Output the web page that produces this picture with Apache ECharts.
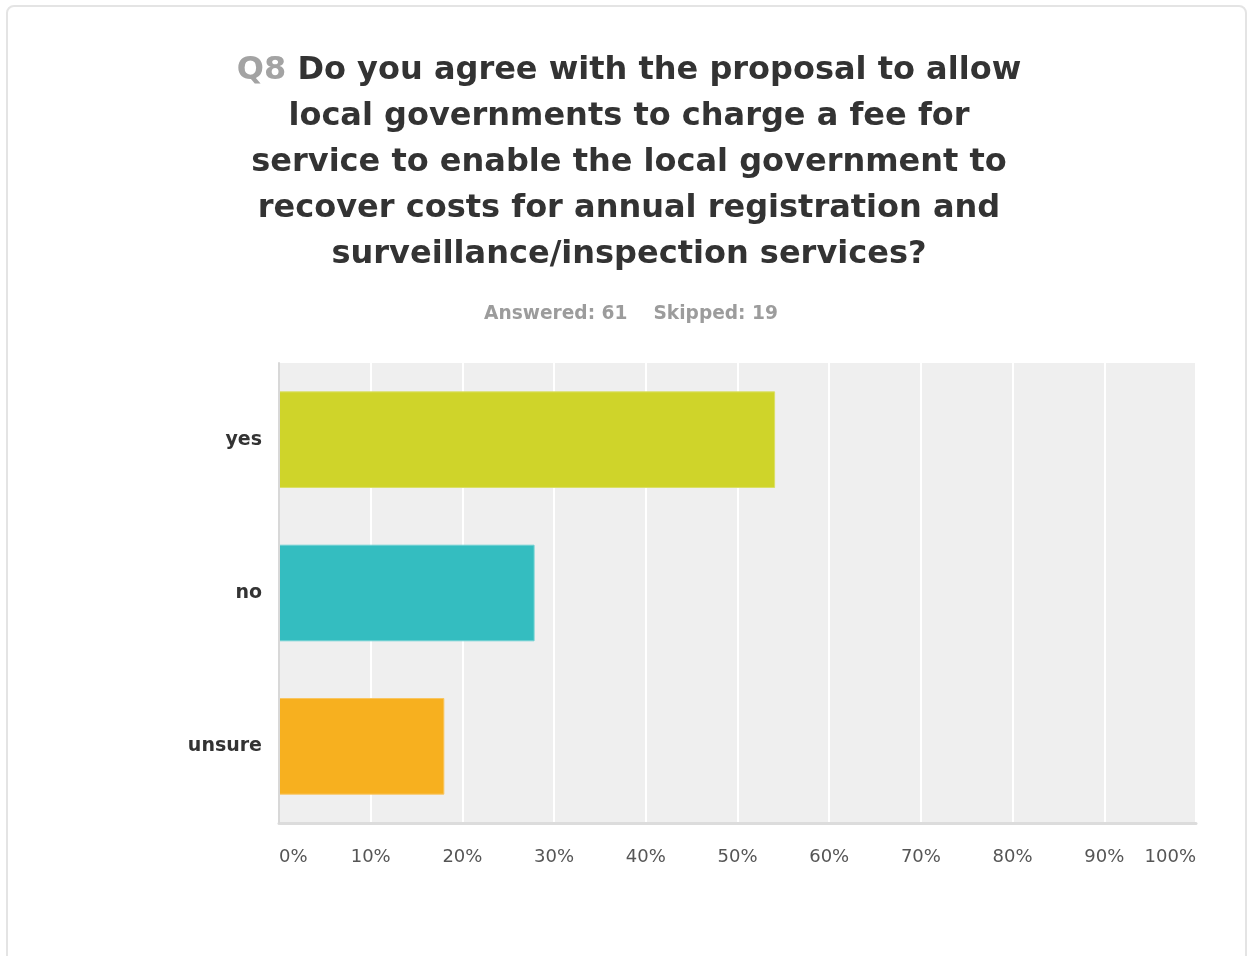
<!DOCTYPE html>
<html>
<head>
<meta charset="utf-8">
<title>Q8 survey results</title>
<script src="https://cdn.jsdelivr.net/npm/echarts@6/dist/echarts.min.js"></script>
<style>
  html, body { margin: 0; padding: 0; background: #ffffff; overflow: hidden; }
  #card {
    position: absolute; left: 6px; top: 5px; width: 1241px; height: 960px;
    border: 2px solid #e4e4e4; border-radius: 8px; box-sizing: border-box;
  }
  #chart { position: absolute; left: 0; top: 0; width: 1248px; height: 956px; }
</style>
</head>
<body>
<div id="card"></div>
<div id="chart"></div>
<script>
// Survey answers and their share of respondents (%)
const categories = ['yes', 'no', 'unsure'];
const shares = [54.10, 27.87, 18.03];
const barColors = ['#cfd42a', '#34bdc0', '#f7b01f'];
const barEdges = ['#dadf66', '#6fd0d2', '#f9c55e'];
const tickValues = [0, 10, 20, 30, 40, 50, 60, 70, 80, 90, 100];

const questionNo = 'Q8';
const questionLines = [
  'Do you agree with the proposal to allow',
  'local governments to charge a fee for',
  'service to enable the local government to',
  'recover costs for annual registration and',
  'surveillance/inspection services?'
];
const answered = 61;
const skipped = 19;

const chart = echarts.init(document.getElementById('chart'), null, { renderer: 'canvas' });

const titleText = '{q|' + questionNo + '} ' + questionLines[0] + '\n' + questionLines.slice(1).join('\n');

chart.setOption({
  animation: false,
  backgroundColor: 'transparent',
  title: [
    {
      text: titleText,
      left: 624,
      top: 43,
      textAlign: 'center',
      textStyle: {
        fontFamily: 'DejaVu Sans',
        fontWeight: 'bold',
        fontSize: 32,
        lineHeight: 46,
        color: '#333333',
        align: 'center',
        rich: {
          q: { fontFamily: 'DejaVu Sans', fontWeight: 'bold', fontSize: 32, lineHeight: 46, color: '#a3a3a3' }
        }
      }
    },
    {
      text: 'Answered: ' + answered + '{gap|}Skipped: ' + skipped,
      left: 626,
      top: 298,
      textAlign: 'center',
      textStyle: {
        fontFamily: 'DejaVu Sans',
        fontWeight: 'bold',
        fontSize: 18.6,
        lineHeight: 22,
        color: '#9c9c9c',
        rich: { gap: { width: 26 } }
      }
    }
  ],
  grid: {
    left: 279,
    right: 52,
    top: 363,
    bottom: 133,
    show: true,
    backgroundColor: '#efefef',
    borderWidth: 0
  },
  xAxis: {
    type: 'value',
    min: tickValues[0],
    max: tickValues[tickValues.length - 1],
    interval: tickValues[1] - tickValues[0],
    axisLine: { show: true, lineStyle: { color: '#dcdcdc', width: 3 } },
    axisTick: { show: false },
    splitLine: { show: true, lineStyle: { color: '#ffffff', width: 2 } },
    axisLabel: {
      formatter: '{value}%',
      margin: 25,
      fontFamily: 'DejaVu Sans',
      fontSize: 18,
      color: '#555555',
      alignMinLabel: 'left',
      alignMaxLabel: 'right'
    }
  },
  yAxis: {
    type: 'category',
    data: categories,
    inverse: true,
    axisLine: { show: true, lineStyle: { color: '#d8d8d8', width: 2 } },
    axisTick: { show: false },
    splitLine: { show: false },
    axisLabel: {
      margin: 17,
      fontFamily: 'DejaVu Sans',
      fontWeight: 'bold',
      fontSize: 19,
      color: '#333333'
    },
    z: 3
  },
  series: [{
    type: 'bar',
    barCategoryGap: '37%',
    data: shares.map((v, i) => ({
      value: v,
      itemStyle: { color: barColors[i], borderColor: barEdges[i], borderWidth: 1 }
    })),
    z: 2
  }]
});
</script>
</body>
</html>
